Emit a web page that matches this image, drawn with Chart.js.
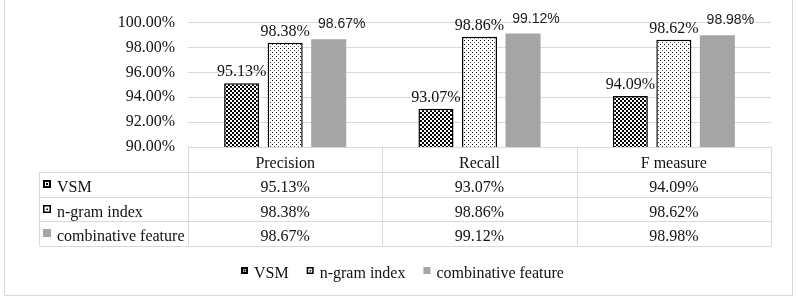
<!DOCTYPE html>
<html><head><meta charset="utf-8">
<script src="https://cdn.jsdelivr.net/npm/chart.js@4"></script>
<style>html,body{margin:0;padding:0;background:#fff;}#wrap{width:798px;height:302px;position:relative}</style>
</head><body><div id="wrap"><canvas id="c" width="798" height="302"></canvas></div>
<script>
const categories = ['Precision', 'Recall', 'F measure'];
const seriesNames = ['VSM', 'n-gram index', 'combinative feature'];
const vsmValues = [95.13, 93.07, 94.09];
const ngramValues = [98.38, 98.86, 98.62];
const combinedValues = [98.67, 99.12, 98.98];
const yMin = 90, yMax = 100, yStep = 2;

const SERIF = '"Liberation Serif", "Times New Roman", serif';
const SANS = '"Liberation Sans", Arial, sans-serif';
const TEXT = '#111';
const LINE = '#d9d9d9';

function makePattern(kind) {
  const c = document.createElement('canvas');
  c.width = 4; c.height = 4;
  const g = c.getContext('2d');
  g.fillStyle = '#fff'; g.fillRect(0, 0, 4, 4);
  if (kind === 'checker') {
    g.fillStyle = '#000';
    g.fillRect(0, 0, 2, 2); g.fillRect(2, 2, 2, 2);
  } else {
    g.fillStyle = '#000'; g.fillRect(0, 0, 1, 1);
    g.fillStyle = '#555'; g.fillRect(2, 2, 1, 1);
  }
  return document.getElementById('c').getContext('2d').createPattern(c, 'repeat');
}
const checkerPat = makePattern('checker');
const dotPat = makePattern('dots');
const seriesData = [vsmValues, ngramValues, combinedValues];
const fills = [checkerPat, dotPat, '#a5a5a5'];
const borders = ['#000', '#000', '#a5a5a5'];
const borderW = [1.5, 1.5, 0];

function fmt(v) { return v.toFixed(2) + '%'; }

function drawIcon(ctx, i, x, y, s) {
  if (i === 0) {
    ctx.fillStyle = '#000'; ctx.fillRect(x, y, s, s);
    ctx.fillStyle = '#fff'; ctx.fillRect(x + 2, y + 2, s - 4, s - 4);
    ctx.fillStyle = '#000'; ctx.fillRect(x + s / 2 - 1, y + s / 2 - 1, 2, 2);
  } else if (i === 1) {
    ctx.fillStyle = '#000'; ctx.fillRect(x, y, s, s);
    ctx.fillStyle = '#fff'; ctx.fillRect(x + 1.5, y + 1.5, s - 3, s - 3);
    ctx.fillStyle = '#000'; ctx.fillRect(x + s / 2 - 0.5, y + s / 2 - 0.5, 1.5, 1.5);
  } else {
    ctx.fillStyle = '#a5a5a5'; ctx.fillRect(x, y, s, s);
  }
}

const tablePlugin = {
  id: 'tablePlugin',
  afterDraw(chart) {
    const ctx = chart.ctx;
    const ca = chart.chartArea;
    const xs = chart.scales.x;
    ctx.save();
    // outer frame
    ctx.strokeStyle = LINE; ctx.lineWidth = 1;
    ctx.strokeRect(4.5, -1.5, 788, 297);

    // data labels
    chart.data.datasets.forEach((ds, di) => {
      const meta = chart.getDatasetMeta(di);
      meta.data.forEach((bar, i) => {
        ctx.textAlign = 'center'; ctx.textBaseline = 'alphabetic';
        if (di === 2) {
          ctx.font = '14px ' + SANS; ctx.fillStyle = '#222';
          ctx.fillText(fmt(ds.data[i]), bar.x + 13, bar.y - 11);
        } else {
          ctx.font = '16px ' + SERIF; ctx.fillStyle = TEXT;
          ctx.fillText(fmt(ds.data[i]), bar.x, bar.y - 7);
        }
      });
    });

    // table
    const top = Math.round(ca.bottom) + 0.5;
    const rowH = 24.5;
    const labelLeft = 39.5;
    const left = Math.round(ca.left) + 0.5;
    const right = Math.round(ca.right) + 0.5;
    const nRows = seriesNames.length;
    const bottom = top + rowH * (nRows + 1);
    ctx.strokeStyle = LINE; ctx.lineWidth = 1;
    ctx.beginPath();
    ctx.moveTo(left, top); ctx.lineTo(right, top);
    for (let r = 1; r <= nRows + 1; r++) {
      const y = Math.round(top + rowH * r) + 0.5;
      ctx.moveTo(labelLeft, y); ctx.lineTo(right, y);
    }
    ctx.moveTo(labelLeft, top + rowH); ctx.lineTo(labelLeft, bottom);
    ctx.moveTo(left, top); ctx.lineTo(left, bottom);
    const catW = (ca.right - ca.left) / categories.length;
    for (let c = 1; c <= categories.length; c++) {
      const x = Math.round(ca.left + catW * c) + 0.5;
      ctx.moveTo(x, top); ctx.lineTo(x, bottom);
    }
    ctx.stroke();

    ctx.font = '16px ' + SERIF; ctx.fillStyle = TEXT;
    ctx.textBaseline = 'alphabetic'; ctx.textAlign = 'center';
    categories.forEach((cat, i) => {
      const cx = xs.getPixelForValue(i);
      ctx.fillText(cat, cx, top + rowH - 4.5);
      seriesData.forEach((arr, r) => {
        ctx.fillText(fmt(arr[i]), cx, top + rowH * (r + 2) - 4.5);
      });
    });
    ctx.textAlign = 'left';
    seriesNames.forEach((name, r) => {
      const rt = top + rowH * (r + 1);
      drawIcon(ctx, r, 43, Math.round(rt + 8), 8);
      ctx.fillStyle = TEXT;
      ctx.fillText(name, 57, rt + rowH - 4.5);
    });

    // legend
    ctx.font = '16px ' + SERIF;
    const gapIcon = 6, gapItem = 18, iconW = 7;
    const widths = seriesNames.map(n => iconW + gapIcon + ctx.measureText(n).width);
    const total = widths.reduce((a, b) => a + b, 0) + gapItem * (widths.length - 1);
    let lx = Math.round(402 - total / 2);
    const ly = 277.5;
    seriesNames.forEach((name, i) => {
      drawIcon(ctx, i, lx, 267, 7);
      ctx.fillStyle = TEXT;
      ctx.fillText(name, lx + iconW + gapIcon, ly);
      lx += widths[i] + gapItem;
    });
    ctx.restore();
  }
};

new Chart(document.getElementById('c'), {
  type: 'bar',
  data: {
    labels: categories,
    datasets: seriesNames.map((name, i) => ({
      label: name,
      data: seriesData[i],
      backgroundColor: fills[i],
      borderColor: borders[i],
      borderWidth: borderW[i],
      borderSkipped: 'bottom',
      barPercentage: 0.805,
      categoryPercentage: 0.672
    }))
  },
  options: {
    responsive: false,
    devicePixelRatio: 1,
    animation: false,
    layout: { padding: { left: 0, right: 27, top: 20, bottom: 155 } },
    plugins: { legend: { display: false }, tooltip: { enabled: false } },
    scales: {
      x: { display: false },
      y: {
        min: yMin, max: yMax,
        afterFit(s) { s.width = 188; },
        border: { display: false },
        grid: { color: LINE, lineWidth: 1, drawTicks: false },
        ticks: {
          stepSize: yStep, padding: 13, color: TEXT,
          font: { family: SERIF, size: 16 },
          callback: v => fmt(v)
        }
      }
    }
  },
  plugins: [tablePlugin]
});
</script></body></html>
